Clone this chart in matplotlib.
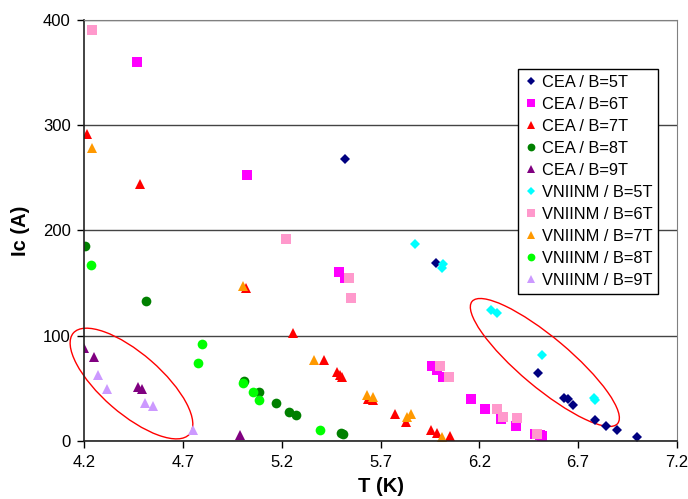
import numpy as np
import matplotlib
matplotlib.use('Agg')
import matplotlib.pyplot as plt
from matplotlib.patches import Ellipse
from matplotlib.transforms import Affine2D, ScaledTranslation

plt.rcParams['font.family'] = ['Liberation Sans', 'DejaVu Sans']

# CEA data (T in K, Ic in A)
cea_5t_t = [5.52, 5.98, 6.495, 6.627, 6.647, 6.677, 6.787, 6.843, 6.897, 6.999]
cea_5t_ic = [268, 169, 65, 41, 40, 34, 20, 14, 10, 4]
cea_6t_t = [4.466, 5.024, 5.491, 5.52, 5.961, 5.985, 6.015, 6.16, 6.231, 6.31, 6.387, 6.483, 6.505, 6.517]
cea_6t_ic = [360, 253, 161, 155, 71, 67, 61, 40, 30, 21, 14, 7, 6, 5]
cea_7t_t = [4.211, 4.483, 5.017, 5.255, 5.414, 5.481, 5.492, 5.503, 5.638, 5.664, 5.774, 5.829, 5.955, 5.985, 6.053]
cea_7t_ic = [292, 244, 145, 103, 77, 66, 63, 61, 40, 39, 26, 18, 10, 8, 5]
cea_8t_t = [4.203, 4.513, 5.007, 5.084, 5.172, 5.238, 5.272, 5.497, 5.512]
cea_8t_ic = [185, 133, 57, 47, 36, 28, 25, 8, 7]
cea_9t_t = [4.197, 4.248, 4.473, 4.491, 4.99]
cea_9t_ic = [88, 80, 51, 49, 6]

# VNIINM data
vn_5t_t = [5.872, 6.012, 6.018, 6.259, 6.292, 6.52, 6.779, 6.787]
vn_5t_ic = [187, 164, 168, 124, 122, 82, 41, 39]
vn_6t_t = [4.236, 5.223, 5.542, 5.552, 6.002, 6.049, 6.289, 6.32, 6.39, 6.49]
vn_6t_ic = [390, 192, 155, 136, 71, 61, 30, 23, 22, 7]
vn_7t_t = [4.236, 5.003, 5.362, 5.633, 5.662, 5.833, 5.853, 6.012]
vn_7t_ic = [278, 147, 77, 44, 42, 23, 26, 4]
vn_8t_t = [4.235, 4.774, 4.794, 5.003, 5.053, 5.083, 5.392]
vn_8t_ic = [167, 74, 92, 55, 47, 39, 10]
vn_9t_t = [4.267, 4.316, 4.507, 4.546, 4.748]
vn_9t_ic = [63, 49, 36, 33, 10]

series = [
    ('CEA / B=5T', cea_5t_t, cea_5t_ic, 'D', '#000080', 5.5),
    ('CEA / B=6T', cea_6t_t, cea_6t_ic, 's', '#FF00FF', 6.5),
    ('CEA / B=7T', cea_7t_t, cea_7t_ic, '^', '#FF0000', 7),
    ('CEA / B=8T', cea_8t_t, cea_8t_ic, 'o', '#008000', 7),
    ('CEA / B=9T', cea_9t_t, cea_9t_ic, '^', '#800080', 7),
    ('VNIINM / B=5T', vn_5t_t, vn_5t_ic, 'D', '#00FFFF', 5.5),
    ('VNIINM / B=6T', vn_6t_t, vn_6t_ic, 's', '#FF99CC', 6.5),
    ('VNIINM / B=7T', vn_7t_t, vn_7t_ic, '^', '#FF9900', 7),
    ('VNIINM / B=8T', vn_8t_t, vn_8t_ic, 'o', '#00FF00', 7),
    ('VNIINM / B=9T', vn_9t_t, vn_9t_ic, '^', '#CC99FF', 7),
]

fig = plt.figure(figsize=(6.88, 4.99), dpi=100)
ax = fig.add_axes([0.1228, 0.1162, 0.8608, 0.8438])

for label, t, ic, m, c, ms in series:
    ax.plot(t, ic, linestyle='none', marker=m, color=c, markersize=ms,
            markeredgewidth=0, label=label)

ax.set_xlim(4.2, 7.2)
ax.set_ylim(0, 400)
ax.set_xticks(np.arange(4.2, 7.25, 0.5))
ax.set_xticklabels(['4.2', '4.7', '5.2', '5.7', '6.2', '6.7', '7.2'])
ax.set_yticks([0, 100, 200, 300, 400])
ax.yaxis.grid(True, color='#444444', linewidth=1)
ax.set_axisbelow(True)
ax.tick_params(direction='out', length=5, labelsize=12, width=1, pad=5)

for s in ['top', 'right']:
    ax.spines[s].set_color('#808080')
for s in ['left', 'bottom']:
    ax.spines[s].set_color('#222222')
    ax.spines[s].set_linewidth(1.2)

ax.set_xlabel('T (K)', fontsize=14.5, fontweight='bold', labelpad=5)
ax.set_ylabel('Ic (A)', fontsize=14.5, fontweight='bold', labelpad=9)

# red ellipses (sizes in pixels)
for (cx, cy), a, b, ang in [((4.438, 54.6), 77, 30, -41), ((6.532, 74.6), 95, 25, -40)]:
    tr = Affine2D() + ScaledTranslation(cx, cy, ax.transData)
    ax.add_patch(Ellipse((0, 0), 2 * a, 2 * b, angle=ang, transform=tr,
                         fill=False, edgecolor='red', linewidth=1, clip_on=False))

leg = ax.legend(loc='upper right', bbox_to_anchor=(0.969, 0.884), fontsize=11.8,
                frameon=True, fancybox=False, edgecolor='black', framealpha=1,
                labelspacing=0.43, handlelength=0.8, handletextpad=0.3,
                borderpad=0.35, borderaxespad=0, markerscale=0.8)
leg.get_frame().set_linewidth(1)

fig.savefig('out.png', dpi=100)
